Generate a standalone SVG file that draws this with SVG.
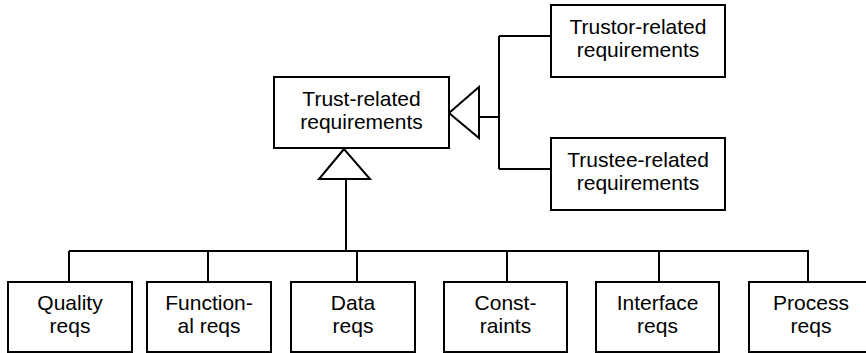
<svg xmlns="http://www.w3.org/2000/svg" width="866" height="353" viewBox="0 0 866 353">
<style>
.box{fill:#fff;stroke:#000;stroke-width:2}
.ln{fill:none;stroke:#000;stroke-width:2}
.tri{fill:#fff;stroke:#000;stroke-width:2;stroke-linejoin:miter}
text{font-family:"Liberation Sans",Arial,sans-serif;font-size:21px;fill:#000;text-anchor:middle}
</style>
<rect width="866" height="353" fill="#fff"/>
<g id="connectors">
<path class="ln" d="M479 117H499M499 36V169M499 36H551M499 169H551"/>
<path class="ln" d="M346 179V251M69 251H809M69 251V282M208 251V282M357 251V282M507 251V282M659 251V282M808 251V282"/>
<polygon class="tri" points="449,113 479,87 479,138"/>
<polygon class="tri" points="344,149 319,179 370,179"/>
</g>
<g id="trust">
<rect class="box" x="274" y="77" width="175" height="71"/>
<text x="361.5" y="105.5">Trust-related</text>
<text x="361.5" y="128.5">requirements</text>
</g>
<g id="trustor">
<rect class="box" x="551" y="5" width="174" height="72"/>
<text x="638" y="34">Trustor-related</text>
<text x="638" y="57">requirements</text>
</g>
<g id="trustee">
<rect class="box" x="551" y="138" width="174" height="72"/>
<text x="638" y="167">Trustee-related</text>
<text x="638" y="190">requirements</text>
</g>
<g id="quality">
<rect class="box" x="8" y="282" width="124" height="70"/>
<text x="70" y="310">Quality</text>
<text x="70" y="333">reqs</text>
</g>
<g id="functional">
<rect class="box" x="147" y="282" width="124" height="70"/>
<text x="209" y="310">Function-</text>
<text x="209" y="333">al reqs</text>
</g>
<g id="data">
<rect class="box" x="291" y="282" width="124" height="70"/>
<text x="353" y="310">Data</text>
<text x="353" y="333">reqs</text>
</g>
<g id="constraints">
<rect class="box" x="444" y="282" width="123" height="70"/>
<text x="505.5" y="310">Const-</text>
<text x="505.5" y="333">raints</text>
</g>
<g id="interface">
<rect class="box" x="596" y="282" width="123" height="70"/>
<text x="657.5" y="310">Interface</text>
<text x="657.5" y="333">reqs</text>
</g>
<g id="process">
<rect class="box" x="749" y="282" width="124" height="70"/>
<text x="811" y="310">Process</text>
<text x="811" y="333">reqs</text>
</g>
</svg>
